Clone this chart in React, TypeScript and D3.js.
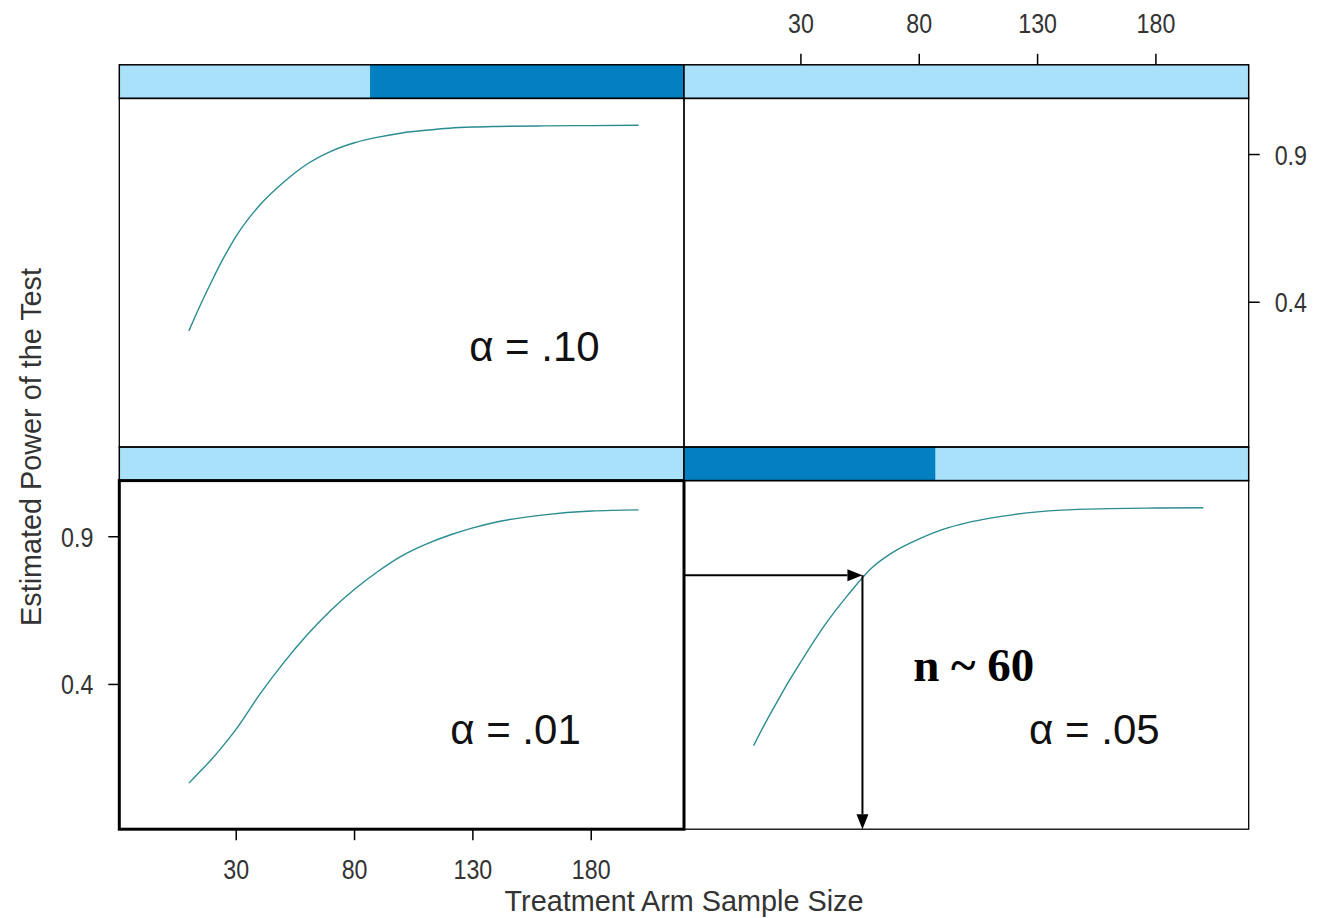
import React from "react";
import * as d3 from "d3";

// Sample sizes at which power was estimated
const sampleSizes = [10, 15, 20, 25, 30, 40, 50, 60, 70, 80, 90, 100, 110, 120, 130, 140, 160, 180, 200];

// Estimated power for each significance level
const powerAlpha01 = [0.066, 0.108, 0.150, 0.198, 0.249, 0.367, 0.473, 0.568, 0.651, 0.722, 0.783, 0.835, 0.874, 0.905, 0.930, 0.950, 0.974, 0.987, 0.991];
const powerAlpha05 = [0.193, 0.270, 0.342, 0.412, 0.477, 0.600, 0.704, 0.795, 0.853, 0.893, 0.925, 0.947, 0.963, 0.975, 0.984, 0.990, 0.995, 0.997, 0.998];
const powerAlpha10 = [0.303, 0.393, 0.477, 0.555, 0.624, 0.729, 0.806, 0.868, 0.911, 0.940, 0.959, 0.973, 0.982, 0.989, 0.993, 0.995, 0.997, 0.998, 0.999];

const xTicks = [30, 80, 130, 180];
const yTicks = [0.4, 0.9];
const xDomain: [number, number] = [-19.4, 219.2];
const yDomain: [number, number] = [-0.09, 1.09];

// Panel labels (lattice order: bottom-left, bottom-right, top-left, top-right)
const panelLabels = ["α = .01", "α = .05", "α = .10", ""];
// Shaded part of each strip, as fractions of the strip width
const stripShadeFrom = [0, 0, 0.444, 0];
const stripShadeTo = [0, 0.445, 1, 0];
// Label anchor for each panel in data units
const labelN = [148, 154, 156, 0];
const labelP = [0.2, 0.2, 0.2, 0];

// Reading off the α = .05 curve
const readN = 56;
const readPower = 0.77;
const readLabel = "n ~ 60";
const readLabelN = 103;
const readLabelP = 0.41;

const W = 1321;
const H = 918;
const colLeft = [119.3, 684];
const panelW = 564.7;
const rowTop = [64.8, 447]; // top row, bottom row
const stripH = 33.6;
const panelH = 348.6;

const stripLight = "#aae1fa";
const stripDark = "#0280c2";
const lineColor = "#2a8c90";
const sans = "'Liberation Sans', Arial, sans-serif";
const tickColor = "#333";

const series = [powerAlpha01, powerAlpha05, powerAlpha10, null as number[] | null];

// Narrow tick label, drawn condensed around its anchor
function TickLabel(props: { x: number; y: number; anchor: "start" | "middle" | "end"; text: string }) {
  return (
    <text
      transform={`translate(${props.x},${props.y}) scale(0.86,1)`}
      textAnchor={props.anchor}
      fontFamily={sans}
      fontSize={27}
      fill={tickColor}
    >
      {props.text}
    </text>
  );
}

export default function App() {
  const x = d3.scaleLinear().domain(xDomain).range([0, panelW]);
  const y = d3.scaleLinear().domain(yDomain).range([panelH, 0]);
  const line = d3
    .line<[number, number]>()
    .x((d) => x(d[0]))
    .y((d) => y(d[1]))
    .curve(d3.curveMonotoneX);

  // panel index -> (column, row) with row 0 = top
  const pos = (i: number) => ({ col: i % 2, row: i < 2 ? 1 : 0 });

  const panels = panelLabels.map((label, i) => {
    const { col, row } = pos(i);
    const px = colLeft[col];
    const sy = rowTop[row];
    const py = sy + stripH;
    const vals = series[i];
    const pts: [number, number][] = vals ? sampleSizes.map((n, k) => [n, vals[k]]) : [];
    const thick = i === 0;
    return (
      <g key={i}>
        {/* strip */}
        <rect x={px} y={sy} width={panelW} height={stripH} fill={stripLight} />
        {stripShadeTo[i] > stripShadeFrom[i] && (
          <rect
            x={px + stripShadeFrom[i] * panelW}
            y={sy}
            width={(stripShadeTo[i] - stripShadeFrom[i]) * panelW}
            height={stripH}
            fill={stripDark}
          />
        )}
        <rect x={px} y={sy} width={panelW} height={stripH} fill="none" stroke="#000" strokeWidth={1.5} />
        {/* panel */}
        <g transform={`translate(${px},${py})`}>
          {pts.length > 0 && (
            <path d={line(pts) || ""} fill="none" stroke={lineColor} strokeWidth={1.4} />
          )}
          {label && (
            <text
              x={x(labelN[i])}
              y={y(labelP[i])}
              textAnchor="middle"
              fontFamily={sans}
              fontSize={42}
              fill="#111"
            >
              {label}
            </text>
          )}
          <rect
            x={0}
            y={0}
            width={panelW}
            height={panelH}
            fill="none"
            stroke="#000"
            strokeWidth={thick ? 3 : 1.3}
          />
        </g>
      </g>
    );
  });

  // axes: bottom (left column), top (right column), left (bottom row), right (top row)
  const bottomY = rowTop[1] + stripH + panelH;
  const topY = rowTop[0];
  const tickLen = 11;

  const bottomAxis = xTicks.map((t) => {
    const tx = colLeft[0] + x(t);
    return (
      <g key={"b" + t}>
        <line x1={tx} x2={tx} y1={bottomY} y2={bottomY + tickLen} stroke="#000" strokeWidth={1.5} />
        <TickLabel x={tx} y={bottomY + 50} anchor="middle" text={String(t)} />
      </g>
    );
  });
  const topAxis = xTicks.map((t) => {
    const tx = colLeft[1] + x(t);
    return (
      <g key={"t" + t}>
        <line x1={tx} x2={tx} y1={topY} y2={topY - tickLen} stroke="#000" strokeWidth={1.5} />
        <TickLabel x={tx} y={topY - 32} anchor="middle" text={String(t)} />
      </g>
    );
  });
  const leftAxis = yTicks.map((t) => {
    const ty = rowTop[1] + stripH + y(t);
    return (
      <g key={"l" + t}>
        <line x1={colLeft[0]} x2={colLeft[0] - tickLen} y1={ty} y2={ty} stroke="#000" strokeWidth={1.5} />
        <TickLabel x={colLeft[0] - 26} y={ty + 10} anchor="end" text={String(t)} />
      </g>
    );
  });
  const rightEdge = colLeft[1] + panelW;
  const rightAxis = yTicks.map((t) => {
    const ty = rowTop[0] + stripH + y(t);
    return (
      <g key={"r" + t}>
        <line x1={rightEdge} x2={rightEdge + tickLen} y1={ty} y2={ty} stroke="#000" strokeWidth={1.5} />
        <TickLabel x={rightEdge + 26} y={ty + 10} anchor="start" text={String(t)} />
      </g>
    );
  });

  // arrows reading the sample size off the α = .05 curve
  const ox = colLeft[1];
  const oy = rowTop[1] + stripH;
  const ax = ox + x(readN);
  const ay = oy + y(readPower);
  const head = 15;
  const half = 6;

  const centerX = (colLeft[0] + rightEdge) / 2;
  const centerY = (rowTop[0] + bottomY) / 2;

  return (
    <svg width={W} height={H} style={{ position: "absolute", left: 0, top: 0, background: "#fff" }}>
      <rect width={W} height={H} fill="#fff" />
      {panels}
      {bottomAxis}
      {topAxis}
      {leftAxis}
      {rightAxis}
      <g>
        <line x1={ox} x2={ax - head} y1={ay} y2={ay} stroke="#000" strokeWidth={2} />
        <path d={`M${ax},${ay} L${ax - head},${ay - half} L${ax - head},${ay + half} Z`} fill="#000" />
        <line x1={ax} x2={ax} y1={ay} y2={bottomY - head} stroke="#000" strokeWidth={2} />
        <path d={`M${ax},${bottomY} L${ax - half},${bottomY - head} L${ax + half},${bottomY - head} Z`} fill="#000" />
        <text
          x={ox + x(readLabelN)}
          y={oy + y(readLabelP)}
          textAnchor="middle"
          fontFamily="'Liberation Serif', 'Times New Roman', serif"
          fontWeight="bold"
          fontSize={47}
          fill="#000"
        >
          {readLabel}
        </text>
      </g>
      <text
        transform={`translate(${centerX},${bottomY + 82}) scale(0.96,1)`}
        textAnchor="middle"
        fontFamily={sans}
        fontSize={30}
        fill={tickColor}
      >
        Treatment Arm Sample Size
      </text>
      <text
        transform={`translate(${41},${centerY}) rotate(-90) scale(0.96,1)`}
        textAnchor="middle"
        fontFamily={sans}
        fontSize={30}
        fill={tickColor}
      >
        Estimated Power of the Test
      </text>
    </svg>
  );
}
